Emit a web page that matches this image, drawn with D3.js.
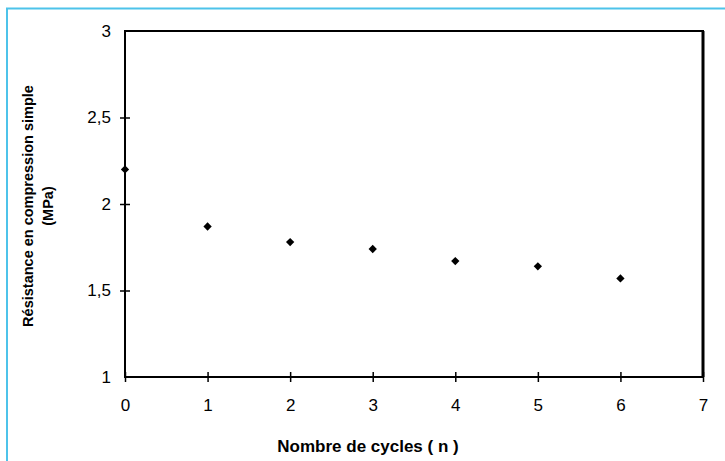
<!DOCTYPE html>
<html>
<head>
<meta charset="utf-8">
<script src="https://cdn.jsdelivr.net/npm/d3@7"></script>
<style>
  body { margin: 0; background: #fff; }
  text { font-family: "Liberation Sans", Arial, sans-serif; fill: #000; }
  .tick text { font-size: 17px; }
</style>
</head>
<body>
<svg id="chart"></svg>
<script>
const width = 725;
const height = 461;

// data
const cycles = [0, 1, 2, 3, 4, 5, 6];
const strength = [2.2, 1.87, 1.78, 1.74, 1.67, 1.64, 1.57];
const xTicks = [0, 1, 2, 3, 4, 5, 6, 7];
const yTicks = [1, 1.5, 2, 2.5, 3];

const margin = {top: 31, right: 22, bottom: 84, left: 125};

const svg = d3.select("#chart")
    .attr("width", width)
    .attr("height", height);

// light blue frame (left and top only)
svg.append("path")
    .attr("d", `M7,${height} L7,8.5 L${width},8.5`)
    .attr("fill", "none")
    .attr("stroke", "#4dc3ea")
    .attr("stroke-width", 2);

const x = d3.scaleLinear().domain([0, 7]).range([margin.left, width - margin.right]);
const y = d3.scaleLinear().domain([1, 3]).range([height - margin.bottom, margin.top]);

// plot box
svg.append("rect")
    .attr("x", x(0)).attr("y", y(3))
    .attr("width", x(7) - x(0)).attr("height", y(1) - y(3))
    .attr("fill", "none").attr("stroke", "#000").attr("stroke-width", 2);
// right edge is drawn heavier
svg.append("line")
    .attr("x1", x(7)).attr("x2", x(7)).attr("y1", y(3)).attr("y2", y(1))
    .attr("stroke", "#000").attr("stroke-width", 3);

// axes with ticks crossing the line
const fmt = d => String(d).replace(".", ",");

const xAxis = svg.append("g")
    .attr("transform", `translate(0,${y(1)})`)
    .call(d3.axisBottom(x).tickValues(xTicks).tickFormat(fmt).tickSize(5).tickSizeOuter(0));
xAxis.select(".domain").remove();
xAxis.selectAll(".tick line").attr("y1", -5).attr("stroke-width", 1.5);
xAxis.selectAll(".tick text").attr("y", 22);

const yAxis = svg.append("g")
    .attr("transform", `translate(${x(0)},0)`)
    .call(d3.axisLeft(y).tickValues(yTicks).tickFormat(fmt).tickSize(5).tickSizeOuter(0));
yAxis.select(".domain").remove();
yAxis.selectAll(".tick line").attr("x1", 5).attr("stroke-width", 1.5);
yAxis.selectAll(".tick text").attr("x", -14);
yAxis.selectAll(".tick").filter(d => d === 1 || d === 3).select("line").remove();

// points as diamonds
svg.append("g")
    .selectAll("path")
    .data(cycles)
    .enter()
    .append("path")
    .attr("transform", (d, i) => `translate(${x(d)},${y(strength[i])})`)
    .attr("d", d3.symbol().type(d3.symbolDiamond2).size(44))
    .attr("fill", "#000");

// axis titles
svg.append("text")
    .attr("x", 368).attr("y", 452)
    .attr("text-anchor", "middle")
    .attr("font-size", 17).attr("font-weight", "bold")
    .text("Nombre de cycles ( n )");

const yTitle = svg.append("text")
    .attr("transform", "translate(0,206) rotate(-90)")
    .attr("text-anchor", "middle")
    .attr("font-size", 14.5).attr("font-weight", "bold");
yTitle.append("tspan").attr("x", 0).attr("y", 33).text("Résistance en compression simple");
yTitle.append("tspan").attr("x", 0).attr("y", 53).text("(MPa)");
</script>
</body>
</html>
